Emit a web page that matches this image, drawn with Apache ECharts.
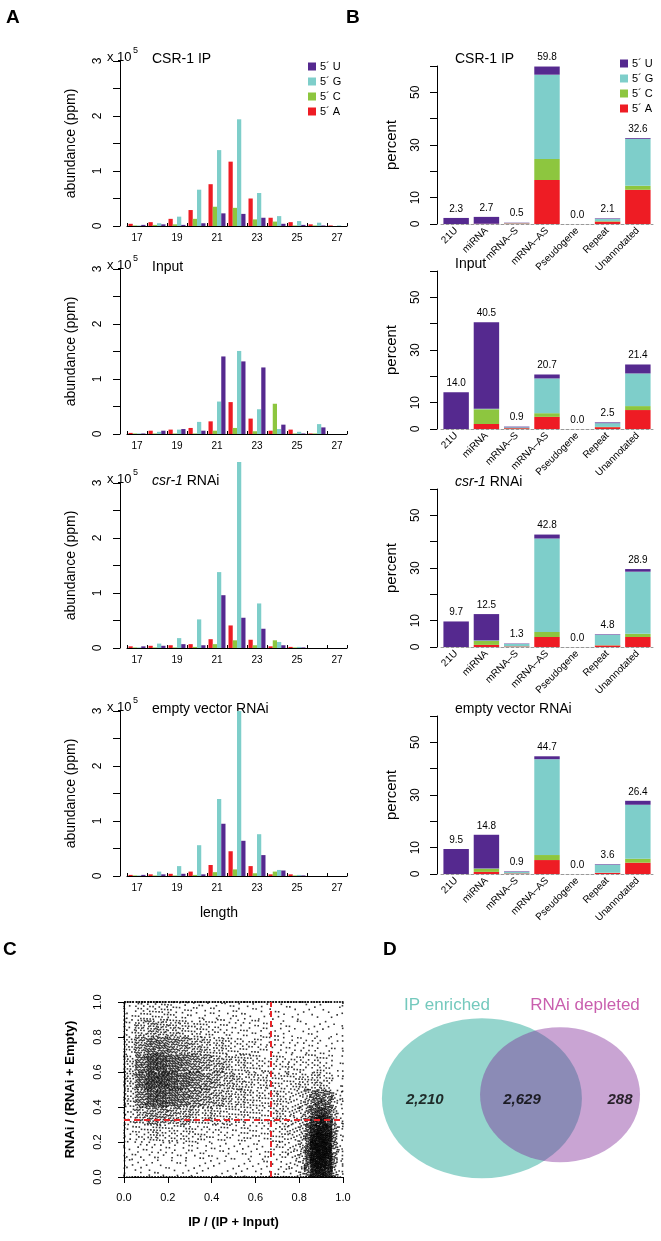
<!DOCTYPE html>
<html>
<head>
<meta charset="utf-8">
<script src="https://cdn.jsdelivr.net/npm/echarts@6/dist/echarts.min.js"></script>
<style>
  html, body { margin: 0; padding: 0; background: #fff; }
  #chart { width: 661px; height: 1241px; }
</style>
</head>
<body>
<div id="chart"></div>
<script>
// ---- panel A: small RNA length distributions (x 10^5 ppm) ----
const lengths = ['17', '18', '19', '20', '21', '22', '23', '24', '25', '26', '27'];
const nucleotides = ['5\u00b4 A', '5\u00b4 C', '5\u00b4 G', '5\u00b4 U'];
const legendOrder = ['5\u00b4 U', '5\u00b4 G', '5\u00b4 C', '5\u00b4 A'];

const ipA = [0.04, 0.07, 0.13, 0.29, 0.76, 1.17, 0.50, 0.15, 0.07, 0.03, 0.01];
const ipC = [0.01, 0.02, 0.03, 0.13, 0.35, 0.33, 0.12, 0.08, 0.01, 0.01, 0];
const ipG = [0.01, 0.05, 0.17, 0.66, 1.38, 1.94, 0.60, 0.18, 0.09, 0.06, 0.01];
const ipU = [0.02, 0.03, 0.02, 0.05, 0.23, 0.22, 0.15, 0.04, 0.02, 0.01, 0];

const inputA = [0.02, 0.06, 0.08, 0.11, 0.23, 0.58, 0.28, 0.06, 0.08, 0.01, 0];
const inputC = [0.01, 0.01, 0.01, 0.01, 0.06, 0.11, 0.05, 0.55, 0.01, 0.01, 0];
const inputG = [0.01, 0.04, 0.08, 0.22, 0.59, 1.51, 0.45, 0.09, 0.04, 0.18, 0];
const inputU = [0.01, 0.06, 0.09, 0.06, 1.41, 1.32, 1.21, 0.17, 0.01, 0.12, 0];

const csrA = [0.03, 0.04, 0.05, 0.07, 0.16, 0.41, 0.15, 0.03, 0.02, 0, 0];
const csrC = [0.01, 0.01, 0.01, 0.02, 0.07, 0.14, 0.05, 0.14, 0.01, 0, 0];
const csrG = [0.01, 0.08, 0.18, 0.52, 1.38, 3.38, 0.81, 0.11, 0.02, 0, 0];
const csrU = [0.03, 0.04, 0.07, 0.05, 0.96, 0.55, 0.35, 0.05, 0.01, 0, 0];

const evA = [0.02, 0.03, 0.04, 0.08, 0.20, 0.45, 0.18, 0.03, 0.03, 0, 0];
const evC = [0.01, 0.01, 0.01, 0.02, 0.07, 0.12, 0.05, 0.08, 0.01, 0, 0];
const evG = [0.01, 0.08, 0.18, 0.56, 1.40, 3.00, 0.76, 0.11, 0.02, 0, 0];
const evU = [0.02, 0.03, 0.04, 0.03, 0.95, 0.64, 0.38, 0.10, 0.01, 0, 0];

// ---- panel B: percent by annotation class ----
const classes = ['21U', 'miRNA', 'mRNA\u2013S', 'mRNA\u2013AS', 'Pseudogene', 'Repeat', 'Unannotated'];

const ipPctA = [0, 0.1, 0.2, 16.7, 0, 0.9, 13.0];
const ipPctC = [0, 0, 0.05, 8.0, 0, 0.2, 1.5];
const ipPctG = [0, 0, 0.15, 32.0, 0, 0.8, 17.8];
const ipPctU = [2.3, 2.6, 0.1, 3.1, 0, 0.2, 0.3];
const ipTotals = ['2.3', '2.7', '0.5', '59.8', '0.0', '2.1', '32.6'];

const inputPctA = [0, 1.9, 0.3, 4.6, 0, 0.7, 7.2];
const inputPctC = [0, 5.6, 0.05, 1.4, 0, 0.1, 1.5];
const inputPctG = [0, 0.2, 0.3, 13.2, 0, 1.4, 12.4];
const inputPctU = [14.0, 32.8, 0.25, 1.5, 0, 0.3, 3.4];
const inputTotals = ['14.0', '40.5', '0.9', '20.7', '0.0', '2.5', '21.4'];

const csrPctA = [0, 0.8, 0.2, 3.8, 0, 0.6, 3.8];
const csrPctC = [0, 1.5, 0.05, 1.9, 0, 0.1, 1.2];
const csrPctG = [0, 0.2, 0.9, 35.5, 0, 3.9, 23.6];
const csrPctU = [9.7, 10.0, 0.15, 1.5, 0, 0.2, 1.0];
const csrTotals = ['9.7', '12.5', '1.3', '42.8', '0.0', '4.8', '28.9'];

const evPctA = [0, 0.8, 0.2, 5.3, 0, 0.4, 4.3];
const evPctC = [0, 1.2, 0.05, 1.9, 0, 0.1, 1.5];
const evPctG = [0, 0.1, 0.5, 36.4, 0, 3.0, 20.5];
const evPctU = [9.5, 12.8, 0.2, 1.1, 0, 0.2, 1.5];
const evTotals = ['9.5', '14.8', '0.9', '44.7', '0.0', '3.6', '26.4'];

// ---- panel C: scatter, point counts per cell ----
// coarse cells: rows y 0.9-1.0 down to 0.0-0.1, columns x in steps of 0.05
// (cells x >= 0.75, y < 0.5 are covered by the finer cluster grid below)
const scatterCounts = [
  [6, 14, 16, 15, 12, 10, 8, 7, 7, 6, 6, 6, 5, 5, 5, 5, 4, 4, 4, 2],
  [10, 24, 32, 30, 25, 20, 16, 14, 12, 10, 9, 8, 7, 6, 6, 5, 5, 5, 4, 2],
  [16, 38, 55, 55, 45, 38, 30, 25, 20, 17, 14, 12, 10, 9, 8, 8, 8, 8, 6, 2],
  [20, 55, 80, 80, 65, 55, 45, 38, 30, 25, 20, 16, 14, 12, 12, 12, 13, 14, 10, 3],
  [22, 60, 90, 90, 75, 62, 52, 42, 35, 28, 24, 20, 17, 15, 15, 16, 20, 24, 16, 3],
  [18, 48, 75, 75, 65, 55, 45, 38, 32, 26, 22, 19, 17, 16, 17, 0, 0, 0, 0, 0],
  [12, 30, 40, 40, 35, 30, 26, 22, 20, 18, 16, 15, 14, 15, 18, 0, 0, 0, 0, 0],
  [8, 14, 18, 18, 16, 15, 13, 12, 11, 10, 10, 10, 10, 12, 16, 0, 0, 0, 0, 0],
  [5, 7, 8, 8, 8, 7, 7, 6, 6, 6, 6, 6, 7, 8, 12, 0, 0, 0, 0, 0],
  [4, 5, 5, 5, 5, 5, 4, 4, 4, 4, 4, 4, 5, 6, 9, 0, 0, 0, 0, 0]
];
// fine cells for the dense low-right cluster: x 0.75-1.0 by 0.025, rows y 0.45-0.5 down to 0.0-0.05
const clusterCounts = [
  [4, 4, 5, 8, 12, 15, 15, 12, 6, 2],
  [4, 4, 5, 9, 14, 18, 18, 14, 6, 2],
  [4, 4, 6, 10, 19, 25, 25, 19, 7, 2],
  [4, 4, 6, 12, 26, 34, 34, 26, 8, 2],
  [4, 4, 7, 15, 34, 42, 42, 34, 10, 2],
  [3, 4, 7, 18, 40, 48, 48, 40, 12, 2],
  [3, 4, 7, 20, 44, 50, 50, 42, 12, 2],
  [3, 4, 7, 20, 44, 50, 50, 42, 12, 2],
  [3, 4, 6, 18, 40, 46, 46, 38, 10, 2],
  [2, 3, 5, 14, 34, 40, 40, 30, 8, 2]
];
// points lying exactly on the borders: y = 1 and y = 0 (per 0.05 of x), x = 0 and x = 1 (per 0.1 of y, top down)
const topEdgeCounts = [12, 14, 14, 14, 13, 13, 12, 12, 12, 12, 12, 12, 12, 12, 12, 12, 12, 12, 12, 8];
const bottomEdgeCounts = [6, 8, 8, 8, 8, 8, 8, 8, 8, 8, 8, 8, 8, 8, 8, 9, 9, 9, 9, 6];
const leftEdgeCounts = [7, 9, 9, 9, 9, 9, 7, 6, 5, 5];
const rightEdgeCounts = [3, 3, 3, 3, 3, 3, 3, 3, 3, 3];
const ipThreshold = 2 / 3;
const rnaiThreshold = 1 / 3;

// ---- panel D: Venn ----
const vennSets = ['IP enriched', 'RNAi depleted'];
const vennCounts = ['2,210', '2,629', '288'];

// ------------------------------------------------------------
const FONT = '"Liberation Sans", Arial, Helvetica, sans-serif';
const colors = ['#EE1C24', '#8DC63F', '#7ECECA', '#55298F'];

// quasi-regular placement inside each counted cell
const scatterPoints = [];
let seq = 0;
function place(x0, dx, y0, dy, n) {
  for (let i = 0; i < n; i++) {
    seq++;
    const u = (0.5 + seq * 0.7548776662) % 1;
    const v = (0.5 + seq * 0.5698402910) % 1;
    scatterPoints.push([x0 + u * dx, y0 + v * dy]);
  }
}
scatterCounts.forEach((row, r) => {
  row.forEach((n, c) => place(c * 0.05, 0.05, 0.9 - r * 0.1, 0.1, n));
});
clusterCounts.forEach((row, r) => {
  row.forEach((n, c) => place(0.75 + c * 0.025, 0.025, 0.45 - r * 0.05, 0.05, n));
});
topEdgeCounts.forEach((n, c) => place(c * 0.05, 0.05, 1, 0, n));
bottomEdgeCounts.forEach((n, c) => place(c * 0.05, 0.05, 0, 0, n));
leftEdgeCounts.forEach((n, r) => place(0, 0.004, 0.9 - r * 0.1, 0.1, n));
rightEdgeCounts.forEach((n, r) => place(0.996, 0.004, 0.9 - r * 0.1, 0.1, n));

const panelsA = [
  { top: 61, title: 'CSR-1 IP', data: [ipA, ipC, ipG, ipU] },
  { top: 269, title: 'Input', data: [inputA, inputC, inputG, inputU] },
  { top: 483, title: '{i|csr-1} RNAi', data: [csrA, csrC, csrG, csrU] },
  { top: 711, title: 'empty vector RNAi', data: [evA, evC, evG, evU] }
];
const panelsB = [
  { top: 66, title: 'CSR-1 IP', data: [ipPctA, ipPctC, ipPctG, ipPctU], totals: ipTotals },
  { top: 271, title: 'Input', data: [inputPctA, inputPctC, inputPctG, inputPctU], totals: inputTotals },
  { top: 489, title: '{i|csr-1} RNAi', data: [csrPctA, csrPctC, csrPctG, csrPctU], totals: csrTotals },
  { top: 716, title: 'empty vector RNAi', data: [evPctA, evPctC, evPctG, evPctU], totals: evTotals }
];

const grid = [], xAxis = [], yAxis = [], series = [], graphic = [];

function text(x, y, str, extra) {
  graphic.push({
    type: 'text', x: x, y: y, silent: true,
    style: Object.assign({
      text: str, fill: '#000', font: '14px ' + FONT, fontFamily: FONT, fontSize: 14,
      textAlign: 'left', textVerticalAlign: 'middle', align: 'left', verticalAlign: 'middle',
      rich: { i: { fontStyle: 'italic', fontSize: 14, fontFamily: FONT } }
    }, extra || {})
  });
}

const axisBlack = { lineStyle: { color: '#000', width: 1 } };

panelsA.forEach((p, i) => {
  grid.push({ left: 127, top: p.top, width: 220, height: 165 });
  xAxis.push({
    gridIndex: i, type: 'category', data: lengths,
    axisLine: axisBlack,
    axisTick: { show: true, inside: true, length: 3, interval: 0, lineStyle: { color: '#000' } },
    axisLabel: { interval: 1, fontSize: 10, color: '#000', margin: 7, fontFamily: FONT }
  });
  yAxis.push({
    gridIndex: i, type: 'value', min: 0, max: 3, interval: 0.5, offset: 7,
    axisLine: { show: true, lineStyle: { color: '#000', width: 1 } },
    axisTick: { show: true, length: 7, lineStyle: { color: '#000' } },
    splitLine: { show: false },
    axisLabel: {
      rotate: 90, fontSize: 12, color: '#000', margin: 16, fontFamily: FONT,
      formatter: v => (Number.isInteger(v) ? String(v) : '')
    },
    name: 'abundance (ppm)', nameLocation: 'middle', nameGap: 42, nameRotate: 90,
    nameTextStyle: { fontSize: 14, color: '#000', fontFamily: FONT }
  });
  p.data.forEach((vals, k) => {
    series.push({
      type: 'bar', name: nucleotides[k], xAxisIndex: i, yAxisIndex: i,
      data: vals, barGap: '0%', barCategoryGap: '15%', clip: false,
      itemStyle: { color: colors[k] }, silent: true, animation: false
    });
  });
  text(107, p.top - 4, 'x 10', { fontSize: 13, font: '13px ' + FONT });
  text(133, p.top - 10, '5', { fontSize: 9, font: '9px ' + FONT });
  text(152, p.top - 2, p.title);
});
text(219, 913, 'length', { textAlign: 'center', align: 'center' });

panelsB.forEach((p, j) => {
  const i = 4 + j;
  grid.push({ left: 441, top: p.top, width: 212, height: 158 });
  xAxis.push({
    gridIndex: i, type: 'category', data: classes,
    axisLine: { lineStyle: { color: '#999', type: [3, 2], width: 1 } },
    axisTick: { show: false },
    axisLabel: { interval: 0, rotate: 45, fontSize: 10, color: '#000', margin: 5, fontFamily: FONT }
  });
  yAxis.push({
    gridIndex: i, type: 'value', min: 0, max: 60, interval: 10, offset: 4,
    axisLine: { show: true, lineStyle: { color: '#000', width: 1 } },
    axisTick: { show: true, length: 7, lineStyle: { color: '#000' } },
    splitLine: { show: false },
    axisLabel: {
      rotate: 90, fontSize: 12, color: '#000', margin: 15, fontFamily: FONT,
      formatter: v => ([0, 10, 30, 50].includes(v) ? String(v) : '')
    },
    name: 'percent', nameLocation: 'middle', nameGap: 38, nameRotate: 90,
    nameTextStyle: { fontSize: 15, color: '#000', fontFamily: FONT }
  });
  p.data.forEach((vals, k) => {
    series.push({
      type: 'bar', name: nucleotides[k], xAxisIndex: i, yAxisIndex: i, stack: 'b' + j,
      data: vals, barCategoryGap: '16%', clip: false,
      itemStyle: { color: colors[k] }, silent: true, animation: false
    });
  });
  series.push({
    type: 'bar', name: 'total', xAxisIndex: i, yAxisIndex: i, stack: 'b' + j,
    data: classes.map(() => 0), barCategoryGap: '16%', silent: true, animation: false,
    itemStyle: { color: 'rgba(0,0,0,0)' },
    label: {
      show: true, position: 'top', distance: 4, fontSize: 10, color: '#000', fontFamily: FONT,
      formatter: q => p.totals[q.dataIndex]
    }
  });
  text(455, p.top - 7, p.title);
});

// panel C
grid.push({ left: 124, top: 1002, width: 219, height: 175 });
xAxis.push({
  gridIndex: 8, type: 'value', min: 0, max: 1, interval: 0.2, offset: 9,
  axisLine: { show: true, lineStyle: { color: '#000' } },
  axisTick: { show: true, length: 6, lineStyle: { color: '#000' } },
  splitLine: { show: false },
  axisLabel: { fontSize: 11, color: '#000', margin: 6, fontFamily: FONT, formatter: v => v.toFixed(1) },
  name: 'IP / (IP + Input)', nameLocation: 'middle', nameGap: 30,
  nameTextStyle: { fontSize: 13, fontWeight: 'bold', color: '#000', fontFamily: FONT }
});
yAxis.push({
  gridIndex: 8, type: 'value', min: 0, max: 1, interval: 0.2, offset: 9,
  axisLine: { show: true, lineStyle: { color: '#000' } },
  axisTick: { show: true, length: 6, lineStyle: { color: '#000' } },
  splitLine: { show: false },
  axisLabel: { rotate: 90, fontSize: 11, color: '#000', margin: 12, fontFamily: FONT, formatter: v => v.toFixed(1) },
  name: 'RNAi / (RNAi + Empty)', nameLocation: 'middle', nameGap: 38, nameRotate: 90,
  nameTextStyle: { fontSize: 13, fontWeight: 'bold', color: '#000', fontFamily: FONT }
});
series.push({
  type: 'scatter', xAxisIndex: 8, yAxisIndex: 8, data: scatterPoints,
  symbol: 'rect', symbolSize: 1.6, itemStyle: { color: '#000' },
  silent: true, animation: false, large: true, largeThreshold: 100000,
  markLine: {
    silent: true, symbol: 'none', label: { show: false }, animation: false,
    lineStyle: { color: '#E8262A', type: [6, 4], width: 2 },
    data: [{ xAxis: ipThreshold }, { yAxis: rnaiThreshold }]
  }
});

// panel D (hidden 0..100 space)
grid.push({ left: 380, top: 1020, width: 280, height: 170 });
xAxis.push({ gridIndex: 9, type: 'value', min: 0, max: 100, show: false });
yAxis.push({ gridIndex: 9, type: 'value', min: 0, max: 100, show: false });
series.push({
  type: 'scatter', xAxisIndex: 9, yAxisIndex: 9, silent: true, animation: false,
  data: [
    { name: vennSets[0], value: [36.4, 54], symbolSize: [200, 160], itemStyle: { color: '#7BCBC0' } },
    { name: vennSets[1], value: [64.3, 56], symbolSize: [160, 135], itemStyle: { color: 'rgba(125,35,150,0.52)' } }
  ]
});
series.push({
  type: 'scatter', xAxisIndex: 9, yAxisIndex: 9, silent: true, animation: false, symbolSize: 0,
  data: [[16, 53], [50.7, 53], [85.7, 53]].map((v, k) => ({ value: v, name: vennCounts[k] })),
  label: {
    show: true, position: 'inside', formatter: q => q.name, color: '#000',
    fontSize: 15, fontWeight: 'bold', fontStyle: 'italic', fontFamily: FONT
  }
});
text(447, 1005, vennSets[0], { fill: '#74C9BD', fontSize: 17, font: '17px ' + FONT, textAlign: 'center', align: 'center' });
text(585, 1005, vennSets[1], { fill: '#C95FAE', fontSize: 17, font: '17px ' + FONT, textAlign: 'center', align: 'center' });

// panel letters
[['A', 6, 18], ['B', 346, 18], ['C', 3, 950], ['D', 383, 950]].forEach(([t, x, y]) => {
  text(x, y, t, { fontSize: 19, fontWeight: 'bold', font: 'bold 19px ' + FONT });
});

const chart = echarts.init(document.getElementById('chart'), null, { renderer: 'canvas' });
chart.setOption({
  animation: false,
  backgroundColor: '#fff',
  textStyle: { fontFamily: FONT },
  grid: grid, xAxis: xAxis, yAxis: yAxis, series: series, graphic: graphic,
  legend: [
    {
      data: legendOrder, left: 303, top: 56, orient: 'vertical', icon: 'rect',
      itemWidth: 8, itemHeight: 8, itemGap: 4, selectedMode: false,
      textStyle: { fontSize: 11, color: '#000', fontFamily: FONT, lineHeight: 9, padding: [0, 0, 0, -1] }
    },
    {
      data: legendOrder, left: 615, top: 53, orient: 'vertical', icon: 'rect',
      itemWidth: 8, itemHeight: 8, itemGap: 4, selectedMode: false,
      textStyle: { fontSize: 11, color: '#000', fontFamily: FONT, lineHeight: 9, padding: [0, 0, 0, -1] }
    }
  ]
});
</script>
</body>
</html>
